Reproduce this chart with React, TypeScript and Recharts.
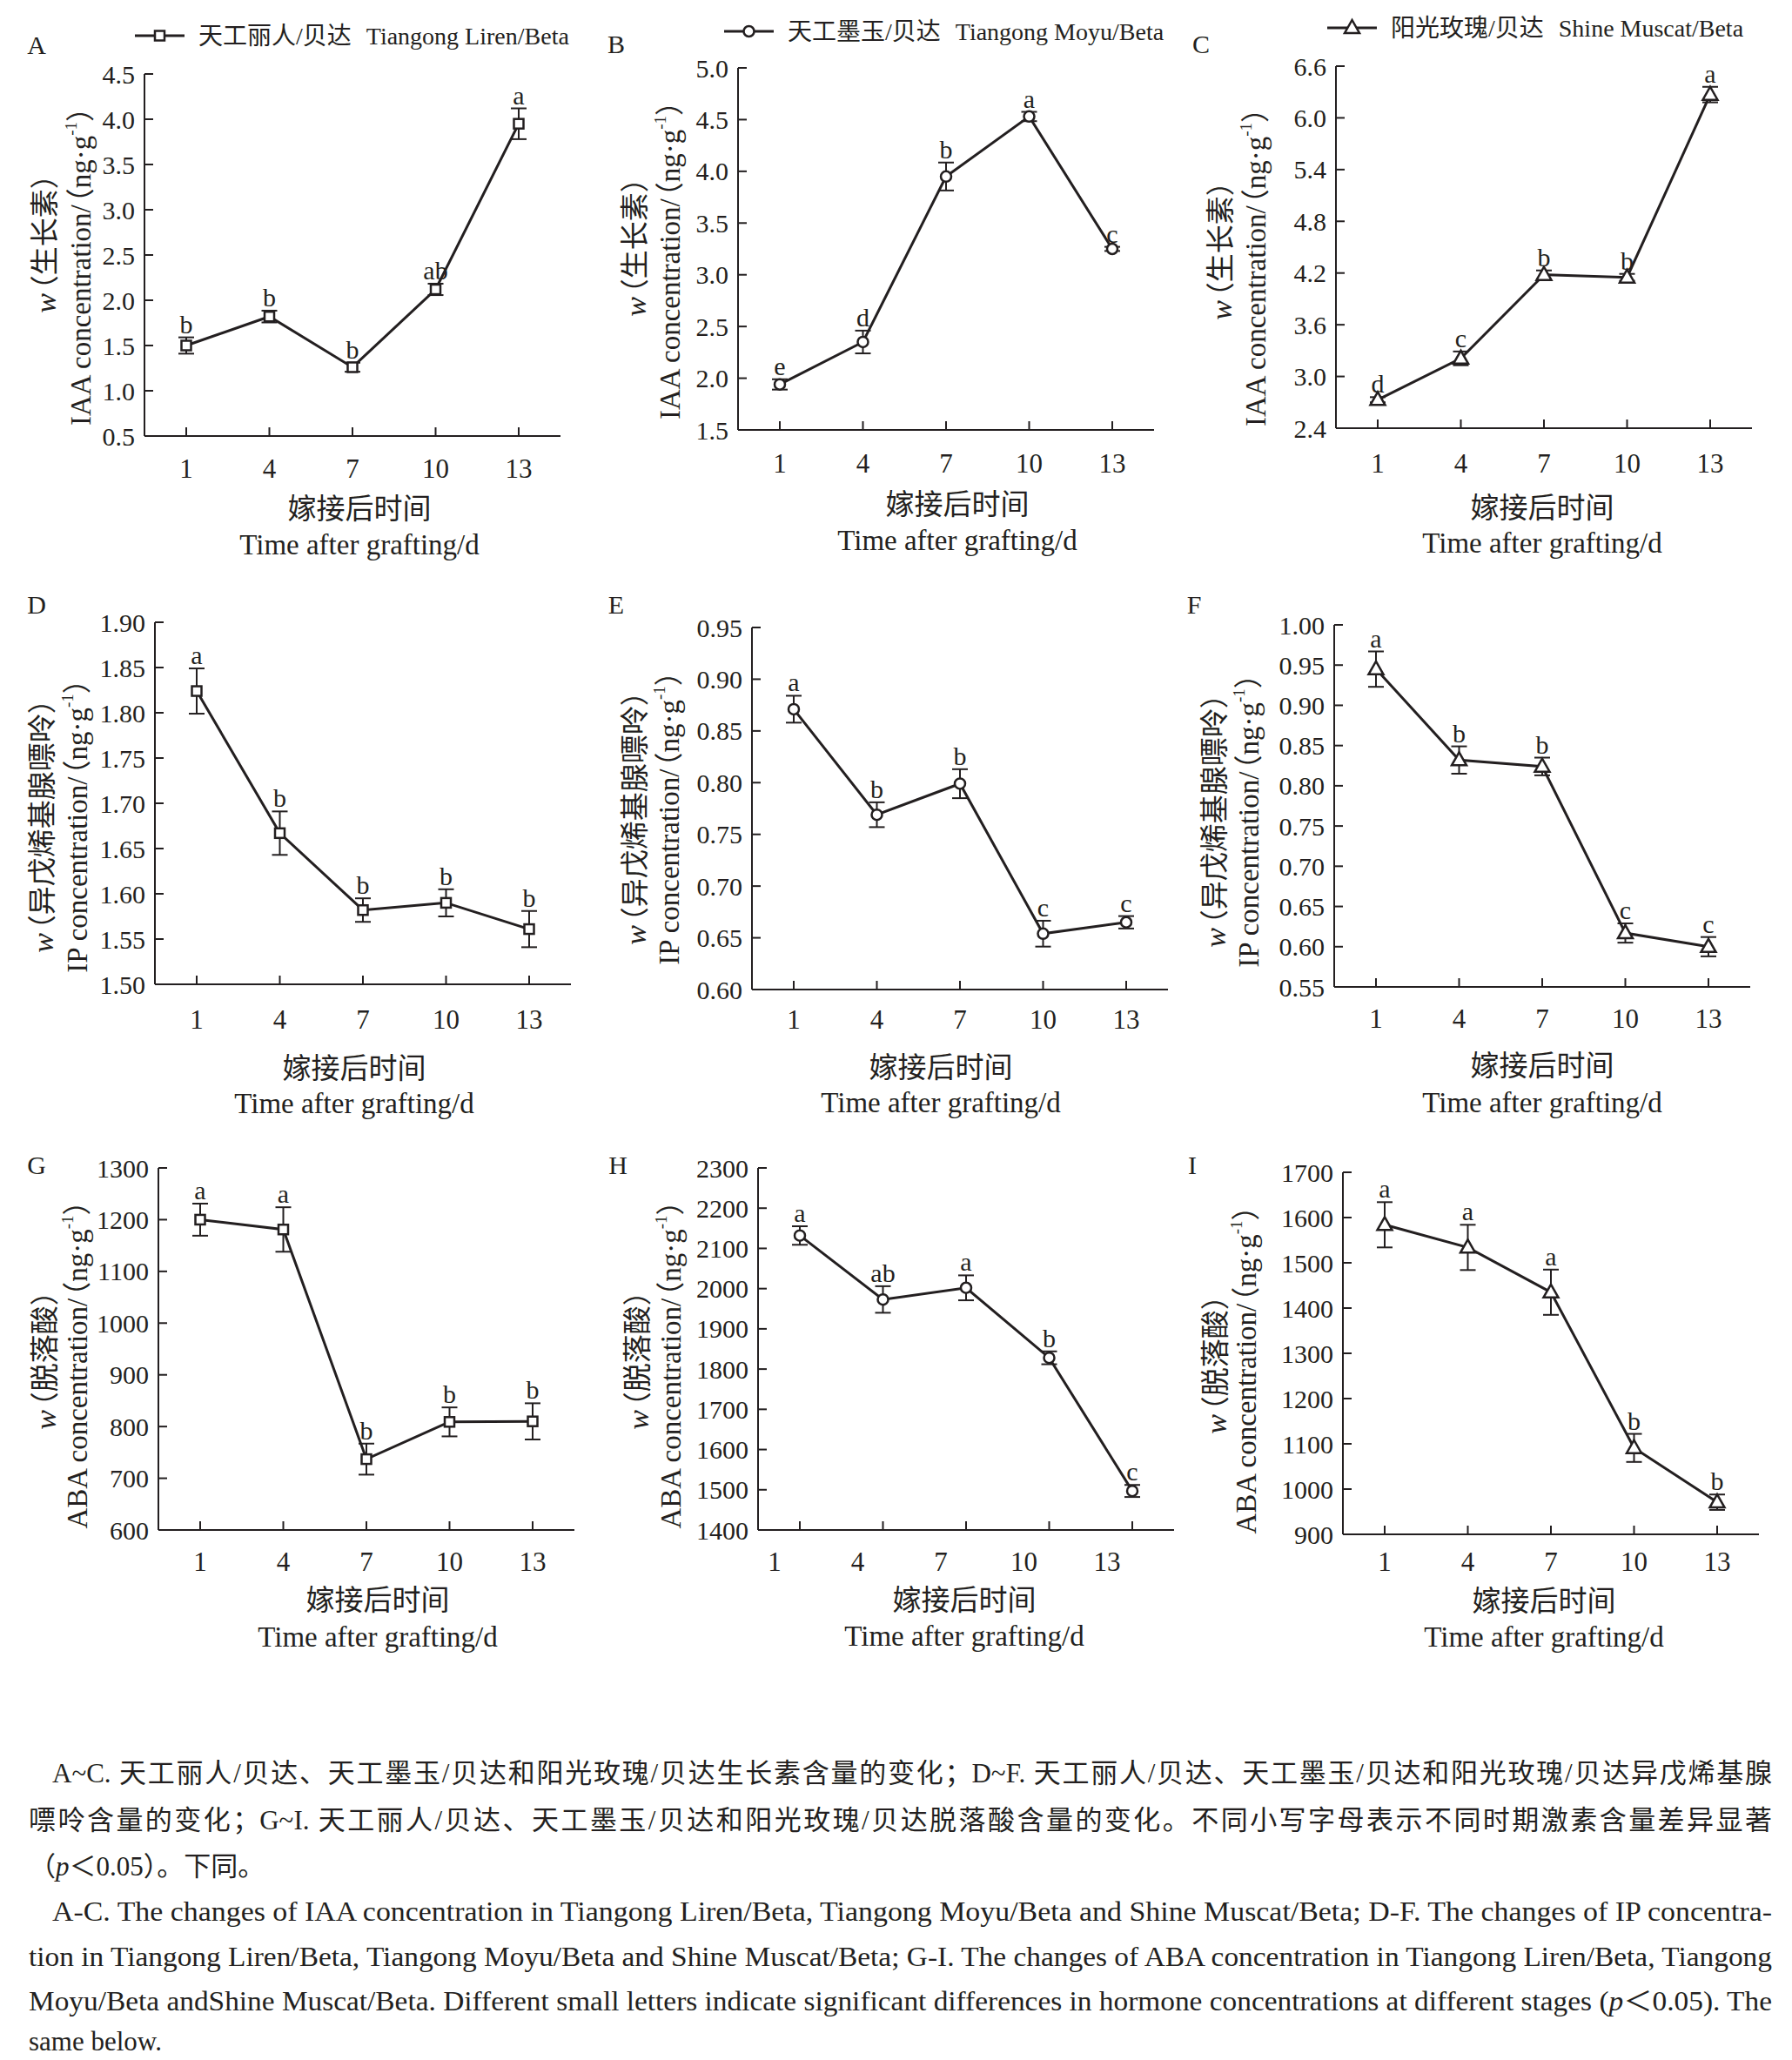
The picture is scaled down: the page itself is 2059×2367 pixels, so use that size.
import { LineChart, Line, XAxis, YAxis, ErrorBar } from "recharts";

const INK = "#231f20";
const SERIF = '"Liberation Serif", "Noto Sans CJK SC", serif';

const DAYS = ["1", "4", "7", "10", "13"];

// IAA (ng/g)
const IAA_LIREN = [1.5, 1.82, 1.26, 2.12, 3.95];
const IAA_LIREN_SE = [0.09, 0.065, 0.05, 0.063, 0.17];
const IAA_LIREN_SIG = ["b", "b", "b", "ab", "a"];
const IAA_MOYU = [1.94, 2.35, 3.95, 4.53, 3.25];
const IAA_MOYU_SE = [0.05, 0.11, 0.135, 0.045, 0.02];
const IAA_MOYU_SIG = ["e", "d", "b", "a", "c"];
const IAA_SHINE = [2.73, 3.21, 4.18, 4.15, 6.27];
const IAA_SHINE_SE = [0.03, 0.08, 0.05, 0.04, 0.09];
const IAA_SHINE_SIG = ["d", "c", "b", "b", "a"];

// IP (ng/g)
const IP_LIREN = [1.824, 1.667, 1.582, 1.59, 1.561];
const IP_LIREN_SE = [0.025, 0.024, 0.013, 0.015, 0.02];
const IP_LIREN_SIG = ["a", "b", "b", "b", "b"];
const IP_MOYU = [0.871, 0.769, 0.799, 0.654, 0.665];
const IP_MOYU_SE = [0.013, 0.012, 0.014, 0.0125, 0.006];
const IP_MOYU_SIG = ["a", "b", "b", "c", "c"];
const IP_SHINE = [0.945, 0.832, 0.824, 0.617, 0.6];
const IP_SHINE_SE = [0.022, 0.017, 0.011, 0.012, 0.012];
const IP_SHINE_SIG = ["a", "b", "b", "c", "c"];

// ABA (ng/g)
const ABA_LIREN = [1200, 1181, 737, 809, 810];
const ABA_LIREN_SE = [31, 43, 30, 28, 35];
const ABA_LIREN_SIG = ["a", "a", "b", "b", "b"];
const ABA_MOYU = [2132, 1973, 2002, 1828, 1497];
const ABA_MOYU_SE = [23, 33, 31, 16, 15];
const ABA_MOYU_SIG = ["a", "ab", "a", "b", "c"];
const ABA_SHINE = [1584, 1534, 1435, 1091, 971];
const ABA_SHINE_SE = [50, 50, 50, 31, 17];
const ABA_SHINE_SIG = ["a", "a", "a", "b", "b"];

// y ticks
const TICKS_A = [0.5, 1, 1.5, 2, 2.5, 3, 3.5, 4, 4.5];
const TICKS_B = [1.5, 2, 2.5, 3, 3.5, 4, 4.5, 5];
const TICKS_C = [2.4, 3, 3.6, 4.2, 4.8, 5.4, 6, 6.6];
const TICKS_D = [1.5, 1.55, 1.6, 1.65, 1.7, 1.75, 1.8, 1.85, 1.9];
const TICKS_E = [0.6, 0.65, 0.7, 0.75, 0.8, 0.85, 0.9, 0.95];
const TICKS_F = [0.55, 0.6, 0.65, 0.7, 0.75, 0.8, 0.85, 0.9, 0.95, 1];
const TICKS_G = [600, 700, 800, 900, 1000, 1100, 1200, 1300];
const TICKS_H = [1400, 1500, 1600, 1700, 1800, 1900, 2000, 2100, 2200, 2300];
const TICKS_I = [900, 1000, 1100, 1200, 1300, 1400, 1500, 1600, 1700];

const LEGEND_LIREN = ["天工丽人/贝达", "Tiangong Liren/Beta"];
const LEGEND_MOYU = ["天工墨玉/贝达", "Tiangong Moyu/Beta"];
const LEGEND_SHINE = ["阳光玫瑰/贝达", "Shine Muscat/Beta"];

const PLOT_W = 478;
const PLOT_H = 416;
const PAD_L = 190;
const PAD_T = 80;
const PAD_R = 50;
const PAD_B = 185;

type Shape = "square" | "circle" | "triangle";

type PanelCfg = {
  letter: string;
  values: number[];
  se: number[];
  sig: string[];
  ticks: number[];
  dec: number;
  shape: Shape;
  hormone: string;
  hormoneCn: string;
  left: number;
  top: number;
  letterX: number;
  letterY: number;
  yLab1: number;
  yLab2: number;
  yLab1Cy: number;
  yLabCy: number;
  xTitleCx: number;
  xTitle1: number;
  xTitle2: number;
  tickOff: number;
  tickDx: number;
  legend?: string[];
  legendY?: number;
  legendX?: number;
};

const PANELS: PanelCfg[] = [
  { letter: "A", values: IAA_LIREN, se: IAA_LIREN_SE, sig: IAA_LIREN_SIG, ticks: TICKS_A, dec: 1, shape: "square", hormone: "IAA", hormoneCn: "生长素",
    left: 166, top: 85, letterX: 42, letterY: 51, yLab1: 52, yLab2: 93, yLab1Cy: 272, yLabCy: 298, xTitleCx: 413, xTitle1: 584, xTitle2: 626, tickOff: 37, tickDx: 0,
    legend: LEGEND_LIREN, legendY: 41, legendX: 155 },
  { letter: "B", values: IAA_MOYU, se: IAA_MOYU_SE, sig: IAA_MOYU_SIG, ticks: TICKS_B, dec: 1, shape: "circle", hormone: "IAA", hormoneCn: "生长素",
    left: 848, top: 78, letterX: 708, letterY: 50, yLab1: 730, yLab2: 770, yLab1Cy: 276, yLabCy: 291, xTitleCx: 1100, xTitle1: 579, xTitle2: 621, tickOff: 38, tickDx: 0,
    legend: LEGEND_MOYU, legendY: 36, legendX: 832 },
  { letter: "C", values: IAA_SHINE, se: IAA_SHINE_SE, sig: IAA_SHINE_SIG, ticks: TICKS_C, dec: 1, shape: "triangle", hormone: "IAA", hormoneCn: "生长素",
    left: 1535, top: 76, letterX: 1380, letterY: 50, yLab1: 1403, yLab2: 1443, yLab1Cy: 280, yLabCy: 299, xTitleCx: 1772, xTitle1: 583, xTitle2: 624, tickOff: 40, tickDx: 0,
    legend: LEGEND_SHINE, legendY: 32, legendX: 1525 },
  { letter: "D", values: IP_LIREN, se: IP_LIREN_SE, sig: IP_LIREN_SIG, ticks: TICKS_D, dec: 2, shape: "square", hormone: "IP", hormoneCn: "异戊烯基腺嘌呤",
    left: 178, top: 715, letterX: 42, letterY: 694, yLab1: 49, yLab2: 89, yLab1Cy: 941, yLabCy: 941, xTitleCx: 407, xTitle1: 1227, xTitle2: 1268, tickOff: 40, tickDx: 0 },
  { letter: "E", values: IP_MOYU, se: IP_MOYU_SE, sig: IP_MOYU_SIG, ticks: TICKS_E, dec: 2, shape: "circle", hormone: "IP", hormoneCn: "异戊烯基腺嘌呤",
    left: 864, top: 721, letterX: 708, letterY: 694, yLab1: 730, yLab2: 769, yLab1Cy: 932, yLabCy: 932, xTitleCx: 1081, xTitle1: 1226, xTitle2: 1267, tickOff: 34, tickDx: 0 },
  { letter: "F", values: IP_SHINE, se: IP_SHINE_SE, sig: IP_SHINE_SIG, ticks: TICKS_F, dec: 2, shape: "triangle", hormone: "IP", hormoneCn: "异戊烯基腺嘌呤",
    left: 1533, top: 718, letterX: 1372, letterY: 694, yLab1: 1396, yLab2: 1435, yLab1Cy: 935, yLabCy: 935, xTitleCx: 1772, xTitle1: 1224, xTitle2: 1267, tickOff: 36, tickDx: 0 },
  { letter: "G", values: ABA_LIREN, se: ABA_LIREN_SE, sig: ABA_LIREN_SIG, ticks: TICKS_G, dec: 0, shape: "square", hormone: "ABA", hormoneCn: "脱落酸",
    left: 182, top: 1342, letterX: 42, letterY: 1338, yLab1: 52, yLab2: 89, yLab1Cy: 1555, yLabCy: 1560, xTitleCx: 434, xTitle1: 1838, xTitle2: 1881, tickOff: 36, tickDx: 0 },
  { letter: "H", values: ABA_MOYU, se: ABA_MOYU_SE, sig: ABA_MOYU_SIG, ticks: TICKS_H, dec: 0, shape: "circle", hormone: "ABA", hormoneCn: "脱落酸",
    left: 871, top: 1342, letterX: 710, letterY: 1338, yLab1: 733, yLab2: 771, yLab1Cy: 1555, yLabCy: 1560, xTitleCx: 1108, xTitle1: 1838, xTitle2: 1880, tickOff: 36, tickDx: -29 },
  { letter: "I", values: ABA_SHINE, se: ABA_SHINE_SE, sig: ABA_SHINE_SIG, ticks: TICKS_I, dec: 0, shape: "triangle", hormone: "ABA", hormoneCn: "脱落酸",
    left: 1543, top: 1347, letterX: 1370, letterY: 1338, yLab1: 1397, yLab2: 1432, yLab1Cy: 1560, yLabCy: 1566, xTitleCx: 1774, xTitle1: 1839, xTitle2: 1881, tickOff: 31, tickDx: 0 },
];

function Marker({ shape, cx, cy }: { shape: Shape; cx: number; cy: number }) {
  if (shape === "square")
    return <rect x={cx - 5.5} y={cy - 5.5} width={11} height={11} fill="#fff" stroke={INK} strokeWidth={2.5} />;
  if (shape === "circle")
    return <circle cx={cx} cy={cy} r={6} fill="#fff" stroke={INK} strokeWidth={2.5} />;
  return (
    <polygon
      points={`${cx},${cy - 9} ${cx - 8.5},${cy + 6} ${cx + 8.5},${cy + 6}`}
      fill="#fff"
      stroke={INK}
      strokeWidth={2.5}
    />
  );
}

function Panel({ p }: { p: PanelCfg }) {
  const x0 = p.left - PAD_L;
  const y0 = p.top - PAD_T;
  const yMin = p.ticks[0];
  const yMax = p.ticks[p.ticks.length - 1];
  const pxPerUnit = PLOT_H / (yMax - yMin);
  const X = (v: number) => v - x0;
  const Y = (v: number) => v - y0;

  const data = DAYS.map((day, i) => ({ day, value: p.values[i], se: p.se[i], sig: p.sig[i] }));

  const yTick = (tp: any) => (
    <g>
      <line x1={tp.x} x2={tp.x + 10} y1={tp.y} y2={tp.y} stroke={INK} strokeWidth={2} />
      <text x={tp.x - 11} y={tp.y} dy="0.35em" textAnchor="end" fontSize={30} fontFamily={SERIF} fill={INK}>
        {Number(tp.payload.value).toFixed(p.dec)}
      </text>
    </g>
  );

  const xTick = (tp: any) => (
    <g>
      <line x1={tp.x} x2={tp.x} y1={tp.y} y2={tp.y - 10} stroke={INK} strokeWidth={2} />
      <text x={tp.x + p.tickDx} y={tp.y + p.tickOff} dy="0.35em" textAnchor="middle" fontSize={31} fontFamily={SERIF} fill={INK}>
        {tp.payload.value}
      </text>
    </g>
  );

  const dot = (dp: any) => {
    const se = p.se[dp.index] ?? 0;
    return (
      <g key={`dot-${dp.index}`}>
        <Marker shape={p.shape} cx={dp.cx} cy={dp.cy} />
        <text x={dp.cx} y={dp.cy - se * pxPerUnit - 5} textAnchor="middle" fontSize={30} fontFamily={SERIF} fill={INK}>
          {p.sig[dp.index]}
        </text>
      </g>
    );
  };

  const decor = () => (
    <g fontFamily={SERIF} fill={INK}>
      <text x={X(p.letterX)} y={Y(p.letterY)} dy="0.35em" textAnchor="middle" fontSize={30}>
        {p.letter}
      </text>
      <text
        x={X(p.yLab1)}
        y={Y(p.yLab1Cy)}
        transform={`rotate(-90 ${X(p.yLab1)} ${Y(p.yLab1Cy)})`}
        textAnchor="middle"
        dominantBaseline="central"
        fontSize={33}
      >
        <tspan fontStyle="italic" fontSize={34}>w</tspan>
        <tspan dx={-12}>（{p.hormoneCn}）</tspan>
      </text>
      <text
        x={X(p.yLab2)}
        y={Y(p.yLabCy)}
        transform={`rotate(-90 ${X(p.yLab2)} ${Y(p.yLabCy)})`}
        textAnchor="middle"
        dominantBaseline="central"
        fontSize={33}
      >
        {p.hormone} concentration/
        <tspan dx={-14}>（ng·g</tspan>
        <tspan dy={-12} fontSize={19}>-1</tspan>
        <tspan dy={12}>）</tspan>
      </text>
      <text x={X(p.xTitleCx)} y={Y(p.xTitle1)} dy="0.36em" textAnchor="middle" fontSize={33}>
        嫁接后时间
      </text>
      <text x={X(p.xTitleCx)} y={Y(p.xTitle2)} dy="0.33em" textAnchor="middle" fontSize={33}>
        Time after grafting/d
      </text>
      {p.legend && p.legendX !== undefined && p.legendY !== undefined && (
        <g>
          <line x1={X(p.legendX)} x2={X(p.legendX + 57)} y1={Y(p.legendY)} y2={Y(p.legendY)} stroke={INK} strokeWidth={3} />
          <Marker shape={p.shape} cx={X(p.legendX + 28.5)} cy={Y(p.legendY)} />
          <text x={X(p.legendX + 73)} y={Y(p.legendY)} dy="0.35em" fontSize={28}>
            {p.legend[0]}
            <tspan dx={17}>{p.legend[1]}</tspan>
          </text>
        </g>
      )}
    </g>
  );

  return (
    <div style={{ position: "absolute", left: x0, top: y0 }}>
      <LineChart
        width={PAD_L + PLOT_W + PAD_R}
        height={PAD_T + PLOT_H + PAD_B}
        data={data}
        margin={{ top: PAD_T, right: PAD_R, left: 0, bottom: 0 }}
      >
        <XAxis
          dataKey="day"
          type="category"
          height={PAD_B}
          padding={{ left: 48, right: 48 }}
          interval={0}
          tickSize={0}
          tickMargin={0}
          tickLine={false}
          axisLine={{ stroke: INK, strokeWidth: 2 }}
          tick={xTick}
        />
        <YAxis
          type="number"
          domain={[yMin, yMax]}
          ticks={p.ticks}
          interval={0}
          width={PAD_L}
          tickSize={0}
          tickMargin={0}
          tickLine={false}
          axisLine={{ stroke: INK, strokeWidth: 2 }}
          tick={yTick}
          label={decor}
        />
        <Line
          dataKey="value"
          type="linear"
          stroke={INK}
          strokeWidth={3}
          dot={dot}
          activeDot={false}
          isAnimationActive={false}
        >
          <ErrorBar dataKey="se" direction="y" width={9} stroke={INK} strokeWidth={2} isAnimationActive={false} />
        </Line>
      </LineChart>
    </div>
  );
}

function CapLine({ cy, left, justify, children }: { cy: number; left: number; justify: boolean; children: any }) {
  return (
    <div
      style={{
        position: "absolute",
        left,
        width: 2036 - left,
        top: cy - 22,
        height: 44,
        lineHeight: "44px",
        fontSize: 31,
        fontFamily: SERIF,
        color: INK,
        textAlign: justify ? "justify" : "left",
        textAlignLast: justify ? "justify" : "left",
      }}
    >
      {children}
    </div>
  );
}

const CAP_TOP = 2160;

function Caption() {
  const line = (cy: number) => cy - CAP_TOP + 11;
  return (
    <>
      <CapLine cy={2038} left={60} justify>
        A~C. 天工丽人/贝达、天工墨玉/贝达和阳光玫瑰/贝达生长素含量的变化；D~F. 天工丽人/贝达、天工墨玉/贝达和阳光玫瑰/贝达异戊烯基腺
      </CapLine>
      <CapLine cy={2092} left={33} justify>
        嘌呤含量的变化；G~I. 天工丽人/贝达、天工墨玉/贝达和阳光玫瑰/贝达脱落酸含量的变化。不同小写字母表示不同时期激素含量差异显著
      </CapLine>
      <CapLine cy={2145} left={33} justify={false}>
        （<i>p</i>＜0.05）。下同。
      </CapLine>
      <svg
        width={2059}
        height={2367 - CAP_TOP}
        style={{ position: "absolute", left: 0, top: CAP_TOP }}
        fontFamily={SERIF}
        fontSize={31}
        fill={INK}
      >
        <text x={60} y={line(2196)} textLength={1976} lengthAdjust="spacingAndGlyphs">
          A-C. The changes of IAA concentration in Tiangong Liren/Beta, Tiangong Moyu/Beta and Shine Muscat/Beta; D-F. The changes of IP concentra-
        </text>
        <text x={33} y={line(2248)} textLength={2003} lengthAdjust="spacingAndGlyphs">
          tion in Tiangong Liren/Beta, Tiangong Moyu/Beta and Shine Muscat/Beta; G-I. The changes of ABA concentration in Tiangong Liren/Beta, Tiangong
        </text>
        <text x={33} y={line(2299)} textLength={2003} lengthAdjust="spacingAndGlyphs">
          Moyu/Beta andShine Muscat/Beta. Different small letters indicate significant differences in hormone concentrations at different stages (
          <tspan fontStyle="italic">p</tspan>＜0.05). The
        </text>
        <text x={33} y={line(2345)}>
          same below.
        </text>
      </svg>
    </>
  );
}

export default function App() {
  return (
    <div
      style={{
        position: "absolute",
        left: 0,
        top: 0,
        width: 2059,
        height: 2367,
        background: "#fff",
        overflow: "hidden",
      }}
    >
      {PANELS.map((p) => (
        <Panel key={p.letter} p={p} />
      ))}
      <Caption />
    </div>
  );
}
